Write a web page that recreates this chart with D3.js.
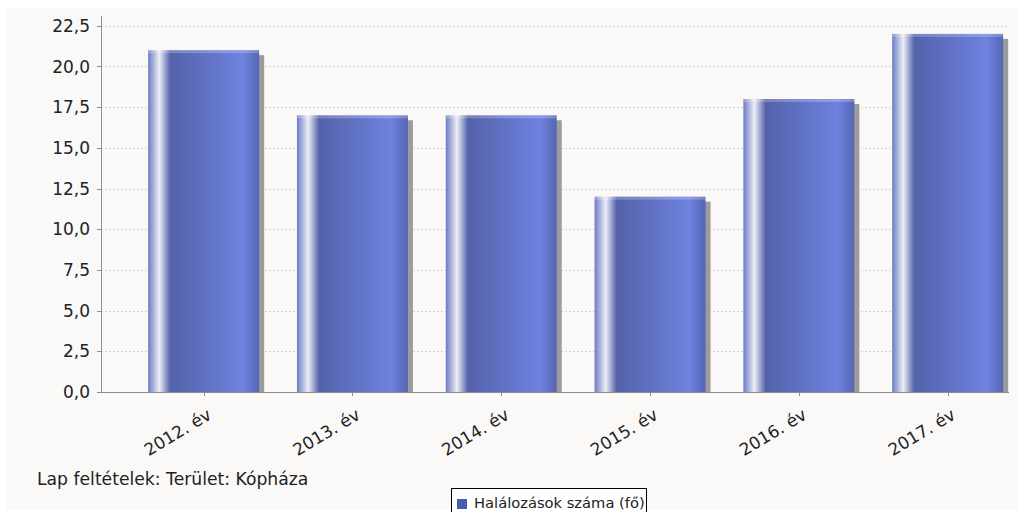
<!DOCTYPE html>
<html>
<head>
<meta charset="utf-8">
<script src="https://cdn.jsdelivr.net/npm/d3@7"></script>
<style>
  html, body { margin: 0; padding: 0; background: #fff; }
  text { font-family: "DejaVu Sans", sans-serif; fill: #222; }
</style>
</head>
<body>
<svg id="chart" width="1017" height="512"></svg>
<script>
const categories = ["2012. év", "2013. év", "2014. év", "2015. év", "2016. év", "2017. év"]
const deaths = [21, 17, 17, 12, 18, 22]
const yTicks = [0, 2.5, 5, 7.5, 10, 12.5, 15, 17.5, 20, 22.5]
const seriesName = "Halálozások száma (fő)"
const filterNote = "Lap feltételek: Terület: Kópháza"

const plot = {left: 101, right: 1009, top: 16, bottom: 392}

const svg = d3.select("#chart")

// panel background
svg.append("rect")
  .attr("x", 7).attr("y", 8)
  .attr("width", 1010).attr("height", 502)
  .attr("fill", "#faf9f7")

const x = d3.scaleBand()
  .domain(categories)
  .range([plot.left, plot.right])
  .paddingInner(0.254)
  .paddingOuter(0.178)
  .align(0.89)

const y = d3.scaleLinear()
  .domain([0, 23.1])
  .range([plot.bottom, plot.top])

const fmt = v => d3.format(".1f")(v).replace(".", ",")

// gradient like the jfree gradient bar painter
const defs = svg.append("defs")
const grad = defs.append("linearGradient")
  .attr("id", "barGrad")
  .attr("x1", 0).attr("x2", 1).attr("y1", 0).attr("y2", 0)
const stops = [
  [0, "#6b7bc4"],
  [0.1, "#eceef7"],
  [0.2, "#5462a9"],
  [0.85, "#6e82df"],
  [1, "#5666b3"]
]
grad.selectAll("stop")
  .data(stops)
  .enter().append("stop")
  .attr("offset", d => d[0])
  .attr("stop-color", d => d[1])

defs.append("clipPath").attr("id", "plotClip")
  .append("rect")
  .attr("x", plot.left).attr("y", plot.top)
  .attr("width", plot.right - plot.left).attr("height", plot.bottom - plot.top)

// grid
svg.append("g")
  .selectAll("line")
  .data(yTicks.filter(d => d > 0))
  .enter().append("line")
  .attr("x1", plot.left).attr("x2", plot.right)
  .attr("y1", d => Math.round(y(d)) + 0.5)
  .attr("y2", d => Math.round(y(d)) + 0.5)
  .attr("stroke", "#d4d4d4")
  .attr("stroke-dasharray", "2,2")

const bars = svg.append("g").attr("clip-path", "url(#plotClip)")
const data = categories.map((c, i) => ({cat: c, value: deaths[i]}))

// shadows
bars.selectAll(".shadow")
  .data(data)
  .enter().append("rect")
  .attr("class", "shadow")
  .attr("x", d => x(d.cat) + 5)
  .attr("y", d => y(d.value) + 5)
  .attr("width", x.bandwidth())
  .attr("height", d => plot.bottom - y(d.value))
  .attr("fill", "#9c9c9c")

bars.selectAll(".bar")
  .data(data)
  .enter().append("rect")
  .attr("class", "bar")
  .attr("x", d => x(d.cat))
  .attr("y", d => y(d.value))
  .attr("width", x.bandwidth())
  .attr("height", d => plot.bottom - y(d.value))
  .attr("fill", "url(#barGrad)")

// lighter top edge
bars.selectAll(".bar-top")
  .data(data)
  .enter().append("rect")
  .attr("class", "bar-top")
  .attr("x", d => x(d.cat))
  .attr("y", d => y(d.value))
  .attr("width", x.bandwidth())
  .attr("height", 3)
  .attr("fill", "#fff")
  .attr("opacity", 0.22)

// axes
svg.append("line")
  .attr("x1", plot.left + 0.5).attr("x2", plot.left + 0.5)
  .attr("y1", plot.top).attr("y2", plot.bottom + 0.5)
  .attr("stroke", "#8c8c8c")
svg.append("line")
  .attr("x1", plot.left - 3).attr("x2", plot.right)
  .attr("y1", plot.bottom + 0.5).attr("y2", plot.bottom + 0.5)
  .attr("stroke", "#8c8c8c")

const yAxis = svg.append("g")
yAxis.selectAll("line")
  .data(yTicks)
  .enter().append("line")
  .attr("x1", plot.left - 4).attr("x2", plot.left)
  .attr("y1", d => Math.round(y(d)) + 0.5)
  .attr("y2", d => Math.round(y(d)) + 0.5)
  .attr("stroke", "#8c8c8c")
yAxis.selectAll("text")
  .data(yTicks)
  .enter().append("text")
  .attr("x", 90)
  .attr("y", d => y(d))
  .attr("dy", "0.36em")
  .attr("text-anchor", "end")
  .style("font-size", "17px")
  .text(fmt)

const xAxis = svg.append("g")
xAxis.selectAll("line")
  .data(categories)
  .enter().append("line")
  .attr("x1", d => Math.round(x(d) + x.bandwidth() / 2) + 0.5)
  .attr("x2", d => Math.round(x(d) + x.bandwidth() / 2) + 0.5)
  .attr("y1", plot.bottom).attr("y2", plot.bottom + 4)
  .attr("stroke", "#8c8c8c")
xAxis.selectAll("text")
  .data(categories)
  .enter().append("text")
  .attr("transform", d => `translate(${x(d) + x.bandwidth() / 2 + 9},${plot.bottom + 26}) rotate(-31)`)
  .attr("text-anchor", "end")
  .style("font-size", "17px")
  .text(d => d)

// subtitle
svg.append("text")
  .attr("x", 37).attr("y", 485)
  .style("font-size", "17.2px")
  .text(filterNote)

// legend
const legend = svg.append("g")
legend.append("rect")
  .attr("x", 451.5).attr("y", 488.5)
  .attr("width", 195).attr("height", 30)
  .attr("fill", "#fff")
  .attr("stroke", "#000")
legend.append("rect")
  .attr("x", 457).attr("y", 499)
  .attr("width", 10).attr("height", 10)
  .attr("fill", "#4a5ab3")
legend.append("text")
  .attr("x", 474).attr("y", 508)
  .style("font-size", "14.7px")
  .text(seriesName)
</script>
</body>
</html>
